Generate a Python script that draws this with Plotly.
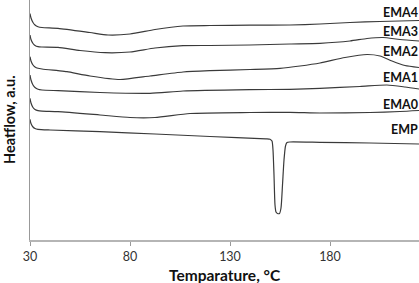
import plotly.graph_objects as go

# Temperature (°C) and heat flow (a.u.)
t_ema4 = [30, 30.5, 31.5, 32.5, 34, 36, 44, 60, 69, 80, 92.5, 106.5, 120, 140, 160, 175, 190, 205, 224.5]
h_ema4 = [22.65, 22.2, 21.75, 21.5, 21.33, 21.25, 21.17, 20.75, 20.5, 20.6, 21.05, 21.4, 21.45, 21.48, 21.5, 21.6, 21.75, 21.85, 21.95]

t_ema3 = [30, 30.5, 31.5, 32.5, 34, 36, 44, 55, 67.5, 80, 92.5, 106.5, 120, 140, 160, 175, 190, 198.5, 206.5, 215, 224.5]
h_ema3 = [20.5, 20.05, 19.65, 19.45, 19.33, 19.3, 19.27, 18.95, 18.73, 18.8, 19.2, 19.43, 19.45, 19.5, 19.6, 19.67, 19.9, 20.15, 20.25, 20.05, 19.9]

t_ema2 = [30, 30.5, 31.5, 32.5, 34, 36, 44, 48.5, 60, 75, 90, 106.5, 120, 140, 155, 165, 175, 187.5, 198.5, 205, 211, 217.5, 224.5]
h_ema2 = [18.33, 17.9, 17.5, 17.3, 17.17, 17.1, 16.93, 16.83, 16.4, 16.05, 16.4, 16.8, 16.93, 17.05, 17.17, 17.4, 17.7, 18.25, 18.55, 18.4, 17.9, 17.45, 17.25]

t_ema1 = [30, 30.5, 31.5, 32.5, 34, 36, 44, 65, 90, 106.5, 140, 160, 175, 195, 208.5, 217.5, 224.5]
h_ema1 = [16.5, 16.0, 15.5, 15.25, 15.07, 15.0, 14.93, 14.75, 14.67, 14.9, 15.03, 15.07, 15.17, 15.35, 15.5, 15.3, 15.1]

t_ema0 = [30, 30.5, 31.5, 32.5, 34, 36, 44, 65, 80, 92.5, 110, 140, 160, 175, 200, 215, 224.5]
h_ema0 = [14.17, 13.7, 13.25, 13.05, 12.93, 12.88, 12.83, 12.5, 12.25, 12.25, 12.65, 12.75, 12.77, 12.7, 12.75, 12.85, 12.95]

t_emp = [30, 30.5, 31.5, 32.5, 34, 40, 65, 92.5, 120, 148, 150, 151, 151.5, 152, 152.5, 153, 153.75, 154.75,
         155.5, 156.25, 157, 157.75, 158.5, 160, 175, 200, 224.5]
h_emp = [12.07, 11.65, 11.3, 11.15, 11.07, 11.0, 10.83, 10.6, 10.35, 10.12, 10.08, 9.9, 9.0, 6.5, 3.5, 2.8, 2.65, 2.65,
         3.2, 5.5, 8.0, 9.4, 9.75, 9.8, 9.77, 9.7, 9.6]

series_names = ["EMA4", "EMA3", "EMA2", "EMA1", "EMA0", "EMP"]
label_heat = [22.8, 20.9, 18.9, 16.3, 13.6, 11.1]
x_ticks = [30, 80, 130, 180]

series = [(t_ema4, h_ema4), (t_ema3, h_ema3), (t_ema2, h_ema2),
          (t_ema1, h_ema1), (t_ema0, h_ema0), (t_emp, h_emp)]

fig = go.Figure()
for name, (t, h) in zip(series_names, series):
    fig.add_trace(go.Scatter(x=t, y=h, mode="lines", name=name,
                             line=dict(color="#3a3a3a", width=1.2, shape="spline", smoothing=0.6),
                             showlegend=False, cliponaxis=False))

for name, yv in zip(series_names, label_heat):
    fig.add_annotation(x=1, xref="paper", y=yv, yref="y", text="<b>" + name + "</b>",
                       showarrow=False, xanchor="right", yanchor="middle", xshift=1,
                       font=dict(family="Lato", size=12.5, color="#111111"))

fig.add_annotation(x=0.5, xref="paper", y=0, yref="paper", yshift=-35, text="<b>Temparature, °C</b>",
                   showarrow=False, xanchor="center", yanchor="middle",
                   font=dict(family="Lato", size=15.5, color="#111111"))
fig.add_annotation(x=0, xref="paper", xshift=-21, y=0.5, yref="paper", text="<b>Heatflow, a.u.</b>",
                   textangle=-90, showarrow=False, xanchor="center", yanchor="middle",
                   font=dict(family="Lato", size=14.5, color="#111111"))

fig.update_layout(
    width=419, height=283,
    margin=dict(l=30, r=0, t=0, b=43),
    paper_bgcolor="white", plot_bgcolor="white",
    xaxis=dict(range=[30, 224.5], tickvals=x_ticks, ticks="outside", ticklen=4, tickcolor="#999999",
               showline=True, linecolor="#b5b5b5", linewidth=1.5, showgrid=False, zeroline=False,
               tickfont=dict(family="Lato", size=12.5, color="#333333")),
    yaxis=dict(range=[0, 24], showticklabels=False, ticks="", showline=True, linecolor="#999999",
               linewidth=1, showgrid=False, zeroline=False),
)

fig.write_html("out.html")
